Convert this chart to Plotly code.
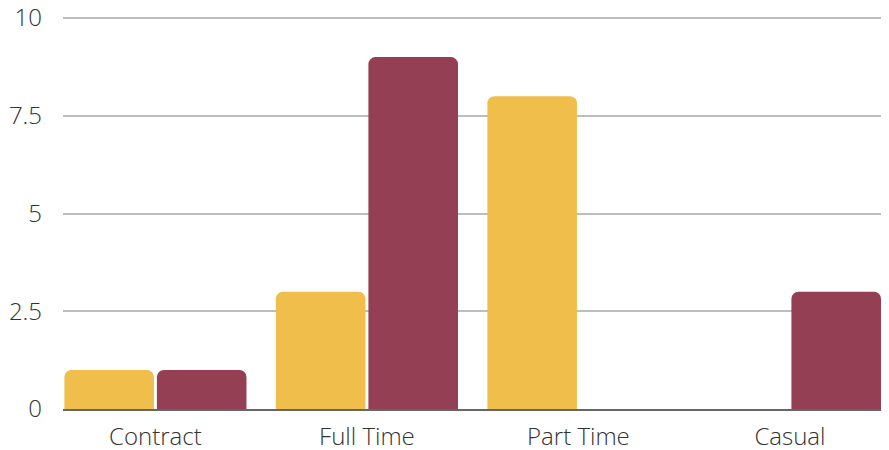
import plotly.graph_objects as go

categories = ["Contract", "Full Time", "Part Time", "Casual"]
series_a = [1, 3, 8, 0]
series_b = [1, 9, 0, 3]
y_ticks = [0, 2.5, 5, 7.5, 10]
y_tick_labels = ["0", "2.5", "5", "7.5", "10"]

fig = go.Figure()
fig.add_trace(go.Bar(x=categories, y=series_a, name="A",
                     marker=dict(color="#F0BE4A", cornerradius=7,
                                 line=dict(width=0))))
fig.add_trace(go.Bar(x=categories, y=series_b, name="B",
                     marker=dict(color="#943F53", cornerradius=7,
                                 line=dict(width=0))))

# the page body adds an 8px margin, so the figure is sized to fit the window
fig.update_layout(
    width=881, height=442,
    margin=dict(l=55, r=6, t=9, b=41, autoexpand=False),
    paper_bgcolor="white", plot_bgcolor="white",
    barmode="group", bargap=0.125, bargroupgap=0.032,
    showlegend=False,
    font=dict(family="Open Sans", size=24, color="#333333", weight=300),
)
fig.update_yaxes(range=[0, 10.026], tickvals=y_ticks, ticktext=y_tick_labels,
                 showgrid=True, gridcolor="#BDBDBD", gridwidth=2,
                 zeroline=False, ticks="", ticklabelstandoff=20,
                 ticklabeloverflow="allow",
                 showline=False, automargin=False)
fig.update_xaxes(range=[-0.437, 3.44], showgrid=False, ticks="",
                 ticklabelstandoff=5, ticklabeloverflow="allow",
                 showline=True, linecolor="#666666",
                 linewidth=2, layer="above traces", automargin=False)

fig.write_html("out.html")
